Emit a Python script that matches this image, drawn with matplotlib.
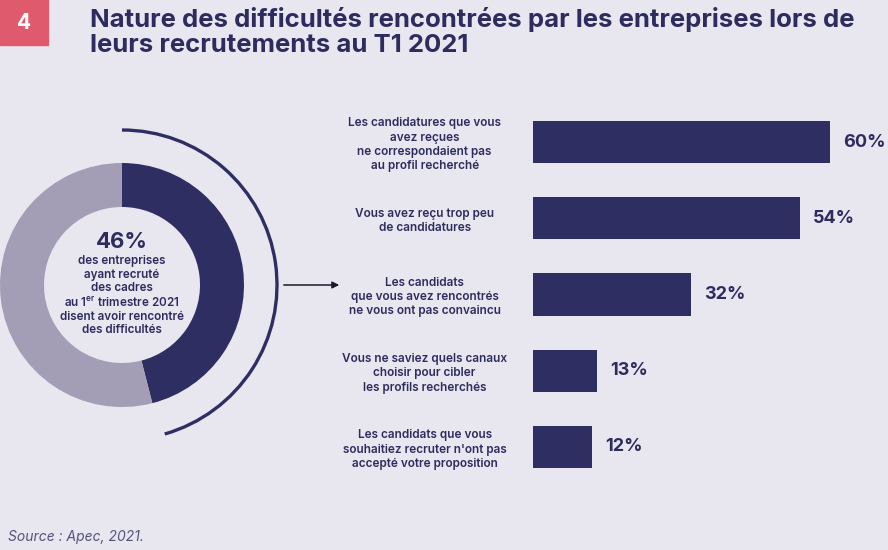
import matplotlib.pyplot as plt
from matplotlib.patches import Arc, Rectangle

plt.rcParams['font.family'] = ['Inter', 'DejaVu Sans']

bg = '#E8E6EE'
navy = '#2F2E62'
light = '#A39DB6'
txt = '#2E2C5E'

# donut
donut_vals = [46, 54]
donut_pct = "46%"
donut_text = ("des entreprises\nayant recruté\ndes cadres\nau 1$^{\\mathregular{er}}$ trimestre 2021\n"
              "disent avoir rencontré\ndes difficultés")

# bars
labels = [
    "Les candidatures que vous\navez reçues\nne correspondaient pas\nau profil recherché",
    "Vous avez reçu trop peu\nde candidatures",
    "Les candidats\nque vous avez rencontrés\nne vous ont pas convaincu",
    "Vous ne saviez quels canaux\nchoisir pour cibler\nles profils recherchés",
    "Les candidats que vous\nsouhaitiez recruter n'ont pas\naccepté votre proposition",
]
values = [60, 54, 32, 13, 12]

W, H = 888, 550
fig = plt.figure(figsize=(W / 100, H / 100), dpi=100, facecolor=bg)

# background layer in pixel coords
ax0 = fig.add_axes([0, 0, 1, 1])
ax0.set_xlim(0, W)
ax0.set_ylim(H, 0)
ax0.axis('off')
ax0.add_patch(Rectangle((0, 0), 48, 45, color='#E05A6E'))
ax0.text(24, 23, "4", color='white', fontsize=15, fontweight='bold', ha='center', va='center')
ax0.text(90, 7, "Nature des difficultés rencontrées par les entreprises lors de\nleurs recrutements au T1 2021",
         color=txt, fontsize=18.5, fontweight='bold', ha='left', va='top', linespacing=1.12)
ax0.text(8, 537, "Source : Apec, 2021.", color='#55547C', fontsize=10, style='italic', va='center')
ax0.annotate("", xy=(342, 285), xytext=(281, 285),
             arrowprops=dict(arrowstyle='-|>', color='#1a1a2a', lw=1.1, mutation_scale=10))

# donut axes
R = 122
half = 165
axd = fig.add_axes([(122 - half) / W, (H - 285 - half) / H, 2 * half / W, 2 * half / H])
axd.pie(donut_vals, colors=[navy, light], startangle=90, counterclock=False,
        wedgeprops=dict(width=44 / R, linewidth=0))
axd.set_xlim(-half / R, half / R)
axd.set_ylim(-half / R, half / R)
axd.set_aspect('equal')
axd.axis('off')
axd.add_patch(Arc((0, 0), 2 * 155 / R, 2 * 155 / R, theta1=-74, theta2=90, color=navy, lw=2.4))
axd.text(0, 0.355, donut_pct, ha='center', va='center', color=txt, fontsize=16, fontweight='bold')
axd.text(0, 0.245, donut_text, ha='center', va='top', color=txt, fontsize=8.4, fontweight='semibold',
         linespacing=1.15)

# bar axes
top, bottom = 121, 468
axb = fig.add_axes([533 / W, (H - bottom) / H, 297 / W, (bottom - top) / H])
axb.set_facecolor('none')
hgt = 42 / 76
ypos = list(range(len(values)))
axb.barh(ypos, values, height=hgt, color=navy)
axb.set_xlim(0, 60)
axb.set_ylim(len(values) - 1 + hgt / 2, -hgt / 2)
for s in axb.spines.values():
    s.set_visible(False)
axb.set_xticks([])
axb.set_yticks(ypos)
axb.set_yticklabels(labels, fontsize=8.5, fontweight='semibold', color=txt, linespacing=1.25)
axb.tick_params(axis='y', length=0, pad=78)
for lbl in axb.get_yticklabels():
    lbl.set_horizontalalignment('center')
    lbl.set_multialignment('center')
for y, v in zip(ypos, values):
    axb.text(v + 2.6, y, f"{v}%", va='center', ha='left', color=txt, fontsize=13, fontweight='bold')

fig.savefig('out.png', dpi=100, facecolor=bg)
